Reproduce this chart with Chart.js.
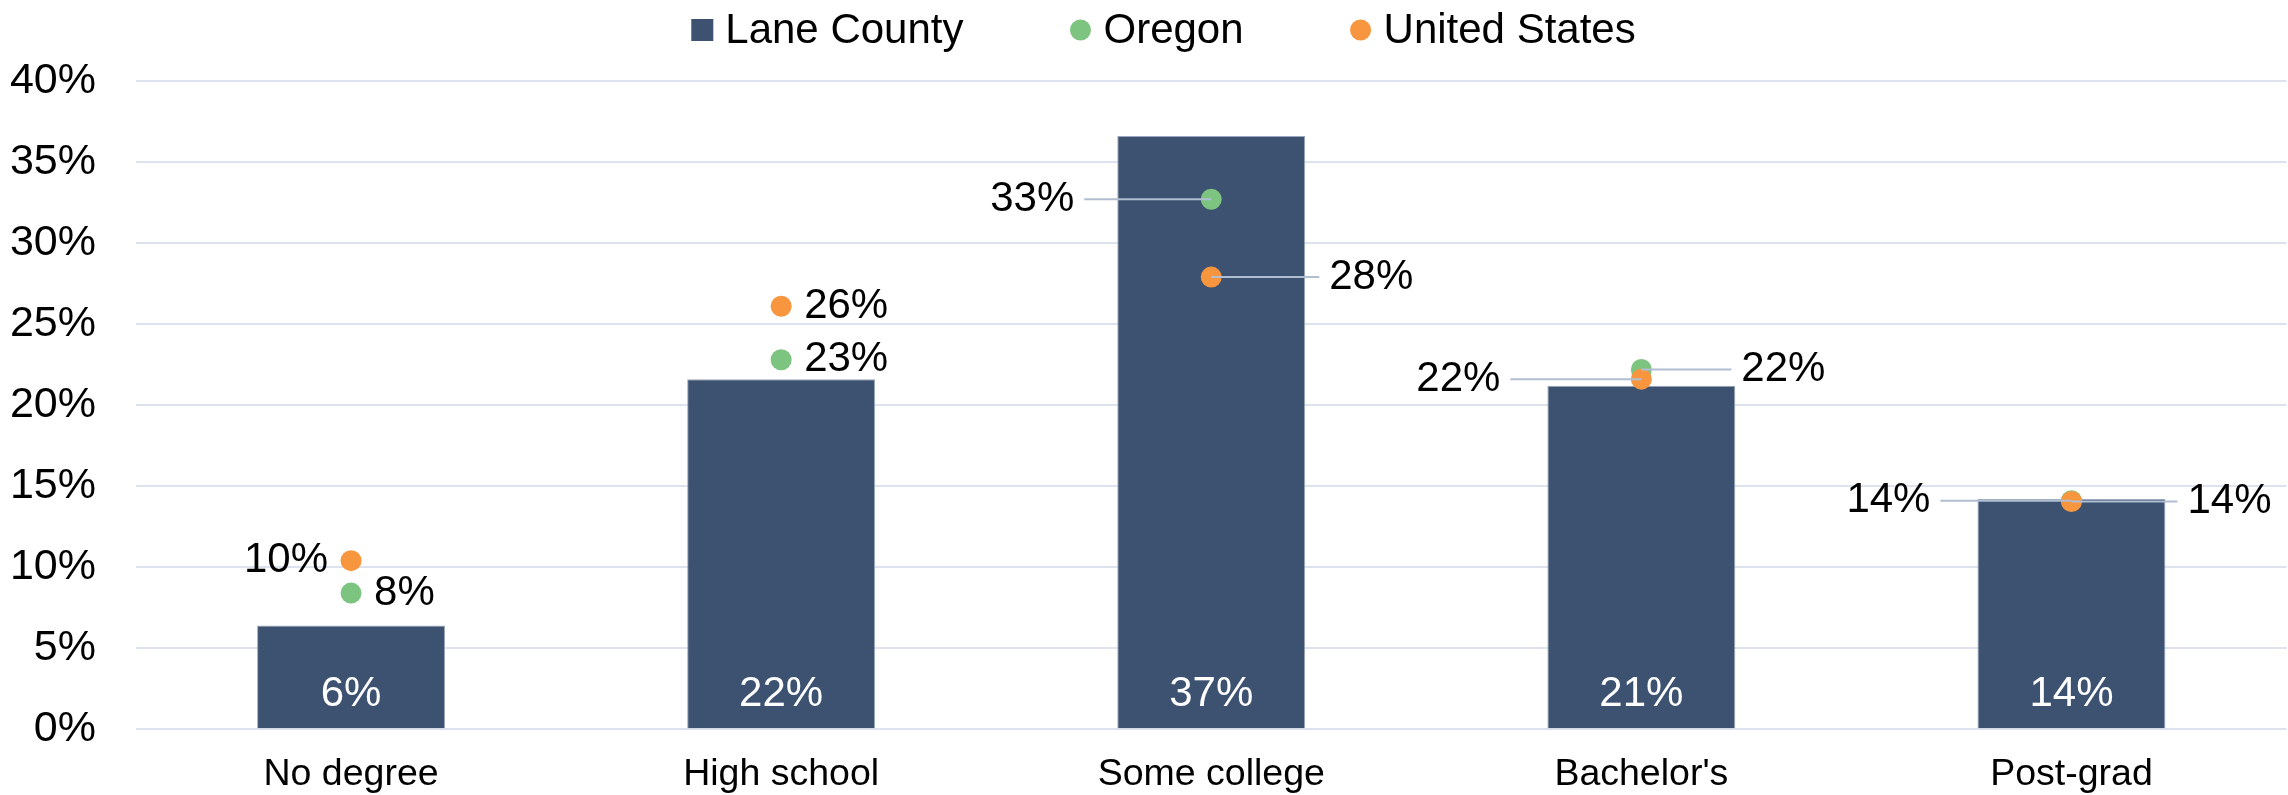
<!DOCTYPE html>
<html>
<head>
<meta charset="utf-8">
<script src="https://cdn.jsdelivr.net/npm/chart.js@4.4.1/dist/chart.umd.min.js"></script>
<style>
  html, body { margin: 0; padding: 0; background: #fff; overflow: hidden; }
  #wrap { width: 2297px; height: 795px; }
</style>
</head>
<body>
<div id="wrap"><canvas id="eduChart"></canvas></div>
<script>
// ===== Data =====
const categories = ['No degree', 'High school', 'Some college', "Bachelor's", 'Post-grad'];
const laneCounty = [6.4, 21.6, 36.6, 21.2, 14.2];
const oregon = [8.4, 22.8, 32.7, 22.2, 14.1];
const unitedStates = [10.4, 26.1, 27.9, 21.6, 14.05];
const yTickValues = [0, 5, 10, 15, 20, 25, 30, 35, 40];

// ===== Styles =====
const barColor = '#3D5270';
const greenColor = '#7CC47F';
const orangeColor = '#F8963F';
const leaderColor = '#B0BED2';
const fontFamily = "'Liberation Sans', Arial, sans-serif";
const bigFont = 42;

// where each point label sits: side of the point, and leader line length (0 = none)
const oregonLabelPos = [
  { side: 'right', lead: 0 }, { side: 'right', lead: 0 }, { side: 'left', lead: 127 },
  { side: 'right', lead: 90 }, { side: 'left', lead: 131 }
];
const usLabelPos = [
  { side: 'left', lead: 0 }, { side: 'right', lead: 0 }, { side: 'right', lead: 108 },
  { side: 'left', lead: 131 }, { side: 'right', lead: 106 }
];

function pct(v) { return Math.round(v) + '%'; }

// ===== Labels plugin =====
const labelPlugin = {
  id: 'eduLabels',
  afterDatasetsDraw(chart) {
    const ctx = chart.ctx;
    ctx.save();
    ctx.font = bigFont + 'px ' + fontFamily;
    ctx.textBaseline = 'middle';

    // bar labels, white, near the base
    const barMeta = chart.getDatasetMeta(0);
    ctx.fillStyle = '#fff';
    ctx.textAlign = 'center';
    barMeta.data.forEach((bar, i) => {
      ctx.fillText(pct(laneCounty[i]), bar.x, bar.base - 34);
    });

    // point labels with leader lines
    const sets = [[1, oregon, oregonLabelPos], [2, unitedStates, usLabelPos]];
    sets.forEach(([idx, values, pos]) => {
      const meta = chart.getDatasetMeta(idx);
      meta.data.forEach((pt, i) => {
        const p = pos[i];
        const dir = p.side === 'left' ? -1 : 1;
        let tx;
        if (p.lead > 0) {
          const end = pt.x + dir * p.lead;
          ctx.strokeStyle = leaderColor;
          ctx.lineWidth = 2;
          ctx.beginPath();
          ctx.moveTo(pt.x, pt.y);
          ctx.lineTo(end, pt.y);
          ctx.stroke();
          tx = end + dir * 10;
        } else {
          tx = pt.x + dir * 23;
        }
        ctx.fillStyle = '#000';
        ctx.textAlign = p.side === 'left' ? 'right' : 'left';
        ctx.fillText(pct(values[i]), tx, pt.y);
      });
    });
    ctx.restore();
  },
  afterDraw(chart) {
    // legend across the top
    const ctx = chart.ctx;
    const items = chart.data.datasets.map(d => ({ text: d.label, color: d.backgroundColor, shape: d.type === 'bar' ? 'rect' : 'circle' }));
    ctx.save();
    ctx.font = bigFont + 'px ' + fontFamily;
    ctx.textBaseline = 'middle';
    ctx.textAlign = 'left';
    const mark = 22, gap = 12, itemGap = 106;
    let total = 0;
    items.forEach((it, i) => {
      it.w = ctx.measureText(it.text).width;
      total += mark + gap + it.w + (i < items.length - 1 ? itemGap : 0);
    });
    let x = (chart.width - total) / 2 + 15;
    const y = 30;
    items.forEach(it => {
      ctx.fillStyle = it.color;
      if (it.shape === 'rect') {
        ctx.fillRect(x, y - mark / 2, mark, mark);
      } else {
        ctx.beginPath();
        ctx.arc(x + mark / 2, y, 10.5, 0, Math.PI * 2);
        ctx.fill();
      }
      ctx.fillStyle = '#000';
      ctx.fillText(it.text, x + mark + gap, y + 1);
      x += mark + gap + it.w + itemGap;
    });
    ctx.restore();
  }
};

// ===== Chart =====
const ctx = document.getElementById('eduChart').getContext('2d');
const eduChart = new Chart(ctx, {
  data: {
    labels: categories,
    datasets: [
      {
        type: 'bar',
        label: 'Lane County',
        data: laneCounty,
        backgroundColor: barColor,
        borderColor: '#9AA8BD',
        borderWidth: 1,
        barPercentage: 0.437,
        categoryPercentage: 1,
        order: 3
      },
      {
        type: 'line',
        label: 'Oregon',
        data: oregon,
        showLine: false,
        backgroundColor: greenColor,
        borderColor: greenColor,
        pointRadius: 10.5,
        pointHoverRadius: 10.5,
        pointBorderWidth: 0,
        order: 2
      },
      {
        type: 'line',
        label: 'United States',
        data: unitedStates,
        showLine: false,
        backgroundColor: orangeColor,
        borderColor: orangeColor,
        pointRadius: 10.5,
        pointHoverRadius: 10.5,
        pointBorderWidth: 0,
        order: 1
      }
    ]
  },
  options: {
    responsive: true,
    maintainAspectRatio: false,
    animation: false,
    layout: { padding: { top: 81, left: 0, right: 0, bottom: 0 } },
    plugins: {
      legend: { display: false },
      tooltip: { enabled: false }
    },
    scales: {
      x: {
        grid: { display: false, drawTicks: false },
        border: { display: false },
        ticks: { color: '#000', font: { size: 37.5, family: fontFamily }, padding: 23 },
        afterFit(scale) { scale.height = 64; }
      },
      y: {
        min: 0,
        max: 40,
        afterBuildTicks(scale) { scale.ticks = yTickValues.map(v => ({ value: v })); },
        grid: { color: '#DCE3EE', lineWidth: 2, drawTicks: false },
        border: { display: false },
        ticks: {
          color: '#000',
          font: { size: 43, family: fontFamily },
          padding: 40,
          callback: v => v + '%'
        },
        afterFit(scale) { scale.width = 136; }
      }
    }
  },
  plugins: [labelPlugin]
});
</script>
</body>
</html>
